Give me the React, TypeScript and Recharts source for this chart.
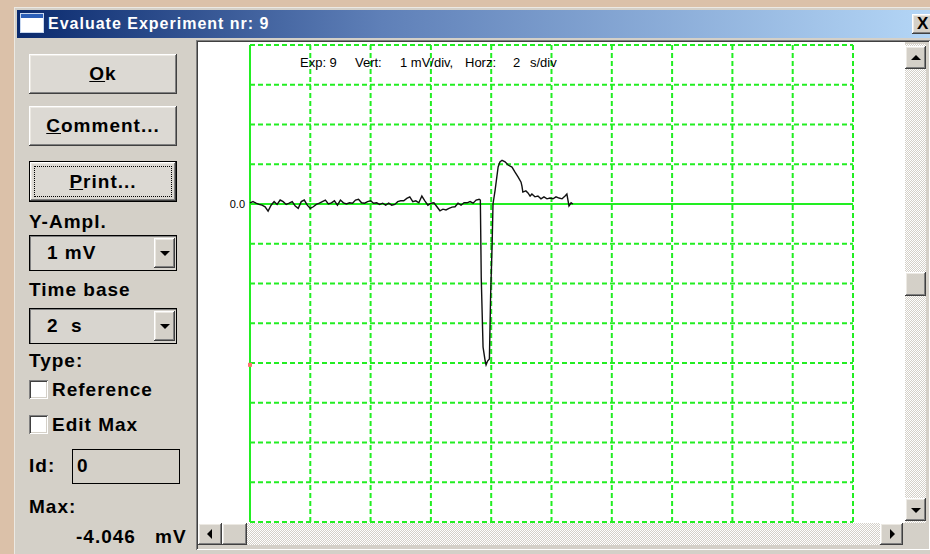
import React from 'react'
import { LineChart, Line, XAxis, YAxis, CartesianGrid, ReferenceLine, ReferenceDot } from 'recharts'

const traceTime = [
  0, 0.1, 0.2, 0.3, 0.4, 0.5, 0.6, 0.7, 0.8, 0.9,
  1.0, 1.1, 1.2, 1.3, 1.4, 1.5, 1.6, 1.7, 1.8, 1.9,
  2.0, 2.1, 2.2, 2.3, 2.4, 2.5, 2.6, 2.7, 2.8, 2.9,
  3.0, 3.1, 3.2, 3.3, 3.4, 3.5, 3.6, 3.7, 3.8, 3.9,
  4.0, 4.1, 4.2, 4.3, 4.4, 4.5, 4.6, 4.7, 4.8, 4.9,
  5.0, 5.1, 5.2, 5.3, 5.4, 5.5, 5.6, 5.7, 5.8, 5.9,
  6.0, 6.1, 6.2, 6.3, 6.4, 6.5, 6.6, 6.7, 6.8, 6.9,
  7.0, 7.1, 7.2, 7.3, 7.4, 7.5, 7.6,
  7.64, 7.67, 7.73, 7.8, 7.83, 7.88, 7.94, 7.98, 8.03, 8.06,
  8.13, 8.23, 8.29, 8.36, 8.46, 8.56, 8.69, 8.79, 8.89, 8.99,
  9.02, 9.05, 9.15, 9.22, 9.29, 9.35, 9.45, 9.55, 9.65, 9.75,
  9.85, 9.95, 10.05, 10.15, 10.25, 10.35, 10.45, 10.51, 10.58, 10.65, 10.71,
]
const traceMv = [
  0.03, 0.06, 0.02, -0.01, -0.03, -0.07, -0.18, -0.03, 0.06, -0.01,
  0.1, 0.06, -0.01, 0.02, 0.06, -0.05, -0.11, 0.06, 0.1, -0.03,
  -0.11, -0.07, -0.01, 0.02, 0.06, 0.1, 0, 0.03, 0.08, -0.03,
  0.1, 0.03, 0, 0.03, 0.02, 0.1, 0.12, 0.03, 0.02, 0.06,
  0.08, 0.02, 0.03, -0.01, 0.02, -0.03, 0.02, -0.03, -0.01, 0.06,
  0.08, 0.08, 0.14, 0.18, 0.06, 0.08, 0.03, 0.2, 0.08, -0.03,
  0.02, 0.03, -0.07, -0.17, -0.13, -0.15, -0.11, -0.08, -0.07, 0.02,
  -0.03, 0.03, 0.03, 0.06, 0.02, 0.1, 0.12,
  0.1, -1.86, -3.6, -3.95, -4.046, -3.95, -3.9, -2.33, -1.03, 0,
  0.35, 0.93, 1.06, 1.1, 1.06, 0.98, 0.93, 0.8, 0.68, 0.55,
  0.45, 0.3, 0.33, 0.28, 0.2, 0.25, 0.18, 0.2, 0.13, 0.18,
  0.13, 0.15, 0.13, 0.18, 0.15, 0.13, 0.2, 0.25, -0.05, 0.03, 0,
]
const xTicks = [0, 2, 4, 6, 8, 10, 12, 14, 16, 18, 20]
const yTicks = [-8, -7, -6, -5, -4, -3, -2, -1, 0, 1, 2, 3, 4]
const maxValue = -4.046
const headerParts = [
  { text: 'Exp: 9', left: 300 },
  { text: 'Vert:', left: 355 },
  { text: '1 mV/div,', left: 400 },
  { text: 'Horz:', left: 465 },
  { text: '2', left: 513 },
  { text: 's/div', left: 530 },
]

const data = traceTime.map((t, i) => ({ t, v: traceMv[i] }))

const GREEN = '#22ee22'
const FACE = '#d4d0c8'
const raised = 'inset -1px -1px #404040, inset 1px 1px #ffffff, inset -2px -2px #808080, inset 2px 2px #ece9e3'
const sunken = 'inset 1px 1px #808080, inset -1px -1px #ffffff, inset 2px 2px #404040, inset -2px -2px #d4d0c8'
const dither = 'repeating-conic-gradient(#ffffff 0 25%, #d4d0c8 0 50%) 0 0 / 2px 2px'
const label: React.CSSProperties = {
  position: 'absolute',
  fontFamily: '"Liberation Sans", Arial, sans-serif',
  fontWeight: 'bold',
  fontSize: 19,
  letterSpacing: 1,
  color: '#000',
  whiteSpace: 'pre',
  lineHeight: '22px',
}

function Box({ l, t, w, h, style, children }: any) {
  return (
    <div style={{ position: 'absolute', left: l, top: t, width: w, height: h, boxSizing: 'border-box', ...style }}>
      {children}
    </div>
  )
}

function Arrow({ dir, l, t, w, h }: any) {
  const tri: React.CSSProperties = { position: 'absolute', width: 0, height: 0 }
  if (dir === 'up') Object.assign(tri, { left: w / 2 - 5, top: h / 2 - 3, borderLeft: '5px solid transparent', borderRight: '5px solid transparent', borderBottom: '5px solid #000' })
  if (dir === 'down') Object.assign(tri, { left: w / 2 - 5, top: h / 2 - 2, borderLeft: '5px solid transparent', borderRight: '5px solid transparent', borderTop: '5px solid #000' })
  if (dir === 'left') Object.assign(tri, { left: w / 2 - 3, top: h / 2 - 5, borderTop: '5px solid transparent', borderBottom: '5px solid transparent', borderRight: '5px solid #000' })
  if (dir === 'right') Object.assign(tri, { left: w / 2 - 2, top: h / 2 - 5, borderTop: '5px solid transparent', borderBottom: '5px solid transparent', borderLeft: '5px solid #000' })
  return (
    <Box l={l} t={t} w={w} h={h} style={{ background: FACE, boxShadow: raised }}>
      <div style={tri} />
    </Box>
  )
}

function Button({ t, h, text, focus }: any) {
  return (
    <Box l={29} t={t} w={148} h={h} style={{ background: '#dcd9d3', boxShadow: raised, border: focus ? '1px solid #000' : 'none' }}>
      {focus && <div style={{ position: 'absolute', left: 4, top: 4, right: 4, bottom: 4, border: '1px dotted #000' }} />}
      <div style={{ ...label, left: 0, right: 0, top: (h - 22) / 2 - (focus ? 1 : 0), textAlign: 'center' }}>
        <span style={{ textDecoration: 'underline' }}>{text[0]}</span>
        {text.slice(1)}
      </div>
    </Box>
  )
}

function Combo({ t, text }: any) {
  return (
    <Box l={29} t={t} w={148} h={36} style={{ background: '#d8d5cf', border: '1px solid #000', boxShadow: 'inset 1px 1px #808080' }}>
      <div style={{ ...label, left: 17, top: 6 }}>{text}</div>
      <Arrow dir="down" l={124} t={2} w={21} h={30} />
    </Box>
  )
}

function Check({ t, text }: any) {
  return (
    <>
      <Box l={29} t={t} w={19} h={19} style={{ background: '#fff', boxShadow: sunken }} />
      <div style={{ ...label, left: 52, top: t - 1 }}>{text}</div>
    </>
  )
}

export default function App() {
  return (
    <div style={{ position: 'absolute', left: 0, top: 0, width: 930, height: 554, overflow: 'hidden', background: '#dbc1a9' }}>
      {/* window */}
      <Box l={14} t={7} w={920} h={550} style={{ background: FACE, boxShadow: 'inset 1px 1px #ece9e3, inset 3px 3px #d4d0c8' }} />
      <Box l={17} t={10} w={913} h={28} style={{ background: 'linear-gradient(90deg, #0a2a6e 0%, #5f80b8 40%, #b4d6f6 100%)' }}>
        <Box l={4} t={4} w={22} h={18} style={{ background: '#fff', borderTop: '4px solid #2b5fb8', outline: '1px solid #c8d8f0' }} />
        <div style={{ ...label, color: '#fff', fontSize: 16, left: 31, top: 3, lineHeight: '22px' }}>Evaluate Experiment nr: 9</div>
        <Box l={895} t={4} w={22} h={20} style={{ background: FACE, boxShadow: raised }}>
          <div style={{ ...label, fontSize: 17, letterSpacing: 0, left: 5, top: -1 }}>X</div>
        </Box>
      </Box>

      {/* left panel */}
      <Button t={54} h={40} text="Ok" />
      <Button t={106} h={40} text="Comment..." />
      <Button t={161} h={41} text="Print..." focus />
      <div style={{ ...label, left: 29, top: 211 }}>Y-Ampl.</div>
      <Combo t={235} text="1 mV" />
      <div style={{ ...label, left: 29, top: 279 }}>Time base</div>
      <Combo t={308} text="2  s" />
      <div style={{ ...label, left: 29, top: 350 }}>Type:</div>
      <Check t={380} text="Reference" />
      <Check t={415} text="Edit Max" />
      <div style={{ ...label, left: 29, top: 455 }}>Id:</div>
      <Box l={72} t={449} w={108} h={35} style={{ border: '1px solid #000', background: FACE }}>
        <div style={{ ...label, left: 4, top: 5 }}>0</div>
      </Box>
      <div style={{ ...label, left: 29, top: 496 }}>Max:</div>
      <div style={{ ...label, left: 76, top: 526 }}>{maxValue.toFixed(3)}</div>
      <div style={{ ...label, left: 155, top: 526 }}>mV</div>

      {/* chart frame */}
      <Box l={196} t={40} w={734} h={510} style={{ boxShadow: sunken, background: FACE }} />
      <Box l={198} t={42} w={707} h={481} style={{ background: '#fff' }} />

      <div style={{ position: 'absolute', left: 198, top: 43 }}>
        <LineChart width={707} height={480} data={data} margin={{ top: 2, right: 52, bottom: 0, left: 0 }}>
          <CartesianGrid stroke={GREEN} strokeWidth={2} strokeDasharray="5 3" vertical={false} />
          <XAxis
            dataKey="t"
            type="number"
            domain={[0, 20]}
            ticks={xTicks}
            height={1}
            tick={false}
            tickLine={false}
            axisLine={false}
          />
          <YAxis
            type="number"
            domain={[-8, 4]}
            ticks={yTicks}
            width={52}
            interval={0}
            tickLine={false}
            tickSize={3}
            tickMargin={2}
            axisLine={false}
            tickFormatter={(v: number) => (v === 0 ? v.toFixed(1) : '')}
            tick={{ fill: '#000', fontSize: 11, fontFamily: '"Liberation Sans", Arial, sans-serif' }}
          />
          {xTicks.map((x) => (
            <ReferenceLine
              key={x}
              x={x}
              stroke={GREEN}
              strokeWidth={2}
              strokeDasharray={x === 0 ? undefined : '5 3'}
            />
          ))}
          <ReferenceLine y={0} stroke={GREEN} strokeWidth={2} />
          <Line
            type="linear"
            dataKey="v"
            stroke="#111"
            strokeWidth={1.4}
            dot={false}
            isAnimationActive={false}
          />
          <ReferenceDot
            x={0}
            y={maxValue}
            ifOverflow="visible"
            shape={(p: any) => <rect x={p.cx - 2} y={p.cy - 2} width={4} height={4} fill="#ff7070" />}
          />
        </LineChart>
      </div>
      {headerParts.map((h) => (
        <div
          key={h.text}
          style={{ position: 'absolute', left: h.left, top: 55, fontFamily: '"Liberation Sans", Arial, sans-serif', fontSize: 13, color: '#000', lineHeight: '16px' }}
        >
          {h.text}
        </div>
      ))}

      {/* vertical scrollbar */}
      <Box l={905} t={44} w={21} h={479} style={{ background: dither }} />
      <Arrow dir="up" l={905} t={46} w={21} h={23} />
      <Box l={905} t={272} w={21} h={24} style={{ background: FACE, boxShadow: raised }} />
      <Arrow dir="down" l={905} t={498} w={21} h={23} />

      {/* horizontal scrollbar */}
      <Box l={198} t={523} w={705} h={22} style={{ background: dither }} />
      <Arrow dir="left" l={198} t={523} w={24} h={22} />
      <Box l={222} t={523} w={25} h={22} style={{ background: FACE, boxShadow: raised }} />
      <Arrow dir="right" l={880} t={523} w={23} h={22} />
      <Box l={903} t={523} w={25} h={22} style={{ background: FACE }} />
    </div>
  )
}
